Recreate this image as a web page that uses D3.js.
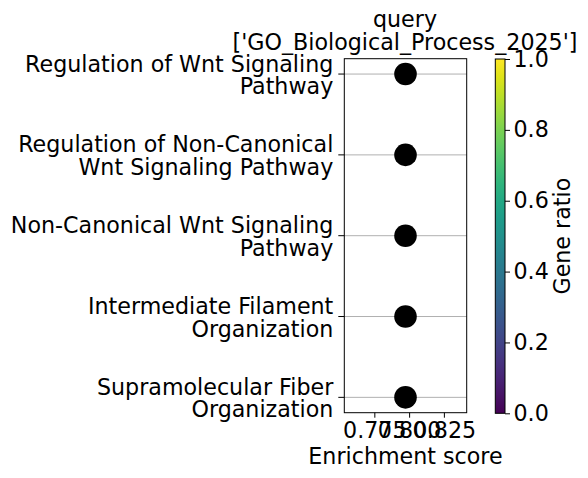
<!DOCTYPE html>
<html><head><meta charset="utf-8">
<script src="https://cdn.jsdelivr.net/npm/d3@7"></script>
<style>body{margin:0;background:#fff}svg{font-family:"DejaVu Sans",sans-serif}</style>
</head><body>
<svg id="c" width="588" height="478"></svg>
<script>
const terms = [
  "Regulation of Wnt Signaling\nPathway",
  "Regulation of Non-Canonical\nWnt Signaling Pathway",
  "Non-Canonical Wnt Signaling\nPathway",
  "Intermediate Filament\nOrganization",
  "Supramolecular Fiber\nOrganization"
];
const enrichment = [0.7974, 0.7974, 0.7974, 0.7974, 0.7974];
const xTicks = [0.775, 0.800, 0.825];
const cbTicks = [0.0, 0.2, 0.4, 0.6, 0.8, 1.0];
const titleLines = ["query", "['GO_Biological_Process_2025']"];

const svg = d3.select("#c");
const L = 344.3, R = 466.7, T = 58.7, B = 412.7;
const fs = 22.2;
const x = d3.scaleLinear().domain([0.7534, 0.8414]).range([L, R]);
const y = d3.scaleLinear().domain([-0.19, terms.length - 1 + 0.19]).range([T, B]);

// grid lines
svg.append("g").selectAll("line").data(terms).join("line")
  .attr("x1", L).attr("x2", R)
  .attr("y1", (d, i) => y(i)).attr("y2", (d, i) => y(i))
  .attr("stroke", "#b0b0b0").attr("stroke-width", 1);

// dots
svg.append("g").selectAll("circle").data(enrichment).join("circle")
  .attr("cx", d => x(d)).attr("cy", (d, i) => y(i)).attr("r", 11.3)
  .attr("fill", "#000");

// frame
svg.append("rect").attr("x", L).attr("y", T).attr("width", R - L).attr("height", B - T)
  .attr("fill", "none").attr("stroke", "#000").attr("stroke-width", 1);

// x axis
const xg = svg.append("g").attr("transform", `translate(0,${B})`)
  .call(d3.axisBottom(x).tickValues(xTicks).tickFormat(d3.format(".3f")).tickSize(5).tickPadding(4));
xg.select(".domain").remove();
xg.selectAll("text").attr("font-size", fs).attr("font-family", "DejaVu Sans").attr("fill", "#000")
  .attr("dy", null).attr("y", 25.5);
xg.selectAll("line").attr("stroke", "#000");

svg.append("text").attr("x", (L + R) / 2).attr("y", 464).attr("text-anchor", "middle")
  .attr("font-size", fs).text("Enrichment score");

// y ticks and labels
const yg = svg.append("g");
terms.forEach((t, i) => {
  const yy = y(i);
  yg.append("line").attr("x1", L - 6).attr("x2", L).attr("y1", yy).attr("y2", yy).attr("stroke", "#000");
  const lines = t.split("\n");
  const lh = 22.6;
  const txt = yg.append("text").attr("text-anchor", "end").attr("font-size", fs);
  lines.forEach((ln, k) => {
    txt.append("tspan").attr("x", L - 11)
      .attr("y", yy + (k - (lines.length - 1) / 2) * lh + 8.8).text(ln);
  });
});

// title
titleLines.forEach((ln, k) => {
  svg.append("text").attr("x", 405).attr("y", 27 + k * 22.6).attr("text-anchor", "middle")
    .attr("font-size", fs).text(ln);
});

// colorbar
const cL = 495.3, cR = 505, cT = 59, cB = 413.3;
const defs = svg.append("defs");
const grad = defs.append("linearGradient").attr("id", "vir").attr("x1", 0).attr("y1", 1).attr("x2", 0).attr("y2", 0);
d3.range(0, 1.0001, 0.05).forEach(t => grad.append("stop").attr("offset", t).attr("stop-color", d3.interpolateViridis(t)));
svg.append("rect").attr("x", cL).attr("y", cT).attr("width", cR - cL).attr("height", cB - cT)
  .attr("fill", "url(#vir)").attr("stroke", "#000").attr("stroke-width", 1);
const cy = d3.scaleLinear().domain([0, 1]).range([cB, cT]);
const cg = svg.append("g").attr("transform", `translate(${cR},0)`)
  .call(d3.axisRight(cy).tickValues(cbTicks).tickFormat(d3.format(".1f")).tickSize(5).tickPadding(3.5));
cg.select(".domain").remove();
cg.selectAll("text").attr("font-size", fs).attr("font-family", "DejaVu Sans").attr("fill", "#000");
cg.selectAll("line").attr("stroke", "#000");
svg.append("text").attr("transform", `translate(570,${(cT + cB) / 2}) rotate(-90)`)
  .attr("text-anchor", "middle").attr("font-size", fs).text("Gene ratio");
</script>
</body></html>
